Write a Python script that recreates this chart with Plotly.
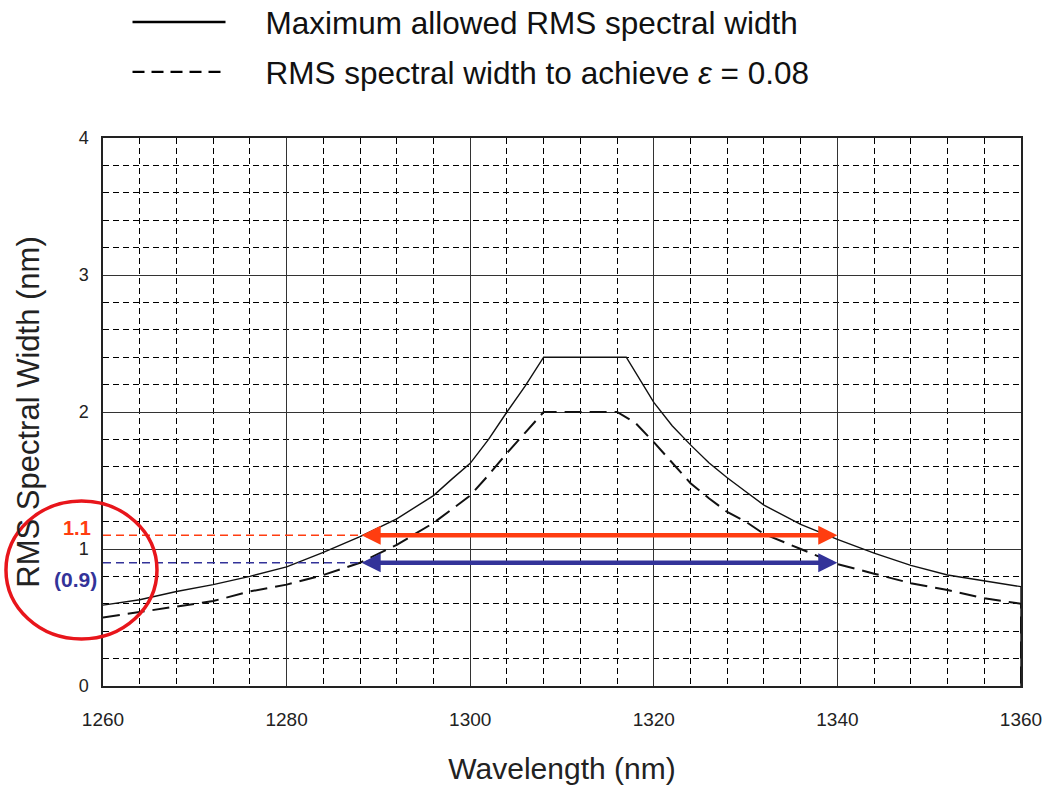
import plotly.graph_objects as go

# ---------------- data ----------------
wl_max = [1260, 1264, 1268, 1272, 1276, 1280, 1284, 1288, 1292, 1296, 1298, 1300, 1302, 1304,
          1306, 1308, 1317, 1320, 1322, 1324, 1326, 1328, 1330, 1332, 1336, 1340, 1344, 1348,
          1352, 1356, 1360, 1360]
rms_max = [0.59, 0.63, 0.69, 0.74, 0.80, 0.87, 0.975, 1.09, 1.22, 1.39, 1.51, 1.625, 1.80,
           2.00, 2.19, 2.40, 2.40, 2.07, 1.90, 1.76, 1.63, 1.52, 1.42, 1.32, 1.18, 1.07, 0.97,
           0.88, 0.81, 0.77, 0.725, 0.0]

wl_eps = [1260, 1264, 1268, 1272, 1276, 1280, 1284, 1288, 1292, 1296, 1298, 1300, 1302, 1304,
          1306, 1308, 1316, 1318, 1320, 1322, 1324, 1326, 1328, 1330, 1332, 1336, 1340, 1344,
          1348, 1352, 1356, 1360, 1360]
rms_eps = [0.50, 0.54, 0.58, 0.62, 0.69, 0.74, 0.81, 0.90, 1.03, 1.19, 1.29, 1.39, 1.54, 1.70,
           1.85, 2.00, 2.00, 1.92, 1.78, 1.63, 1.48, 1.37, 1.27, 1.20, 1.11, 1.00, 0.89, 0.82,
           0.75, 0.70, 0.64, 0.60, 0.0]

level_hi = 1.1          # orange
level_lo = 0.9          # blue
range_start = 1288
range_end = 1340

x_ticks = [1260, 1280, 1300, 1320, 1340, 1360]
y_ticks = [0, 1, 2, 3, 4]

legend_names = ["Maximum allowed RMS spectral width",
                "RMS spectral width to achieve <i>ε</i> = 0.08"]

ORANGE = "#FF3D10"
BLUE = "#333399"
RED = "#E8151B"
FONT = "Arial, Liberation Sans, sans-serif"
PAD = "\u00a0" * 4

fig = go.Figure()

# main curves
fig.add_trace(go.Scatter(x=wl_max, y=rms_max, mode="lines",
                         line=dict(color="#111", width=1.4), showlegend=False,
                         hoverinfo="skip"))
fig.add_trace(go.Scatter(x=wl_eps, y=rms_eps, mode="lines",
                         line=dict(color="#111", width=2, dash="17px,8px"), showlegend=False,
                         hoverinfo="skip"))

# legend entries
fig.add_trace(go.Scatter(x=[None], y=[None], mode="lines", name=PAD + legend_names[0],
                         legendgroup="a", line=dict(color="#000", width=2.6)))
fig.add_trace(go.Scatter(x=[None], y=[None], mode="lines", name=PAD + legend_names[1],
                         legendgroup="b", line=dict(color="#000", width=2.2, dash="12px,7px")))

# dashed reference levels from the axis to the start of range
fig.add_trace(go.Scatter(x=[x_ticks[0], range_start], y=[level_hi, level_hi], mode="lines",
                         line=dict(color=ORANGE, width=1.6, dash="8px,5px"),
                         showlegend=False, hoverinfo="skip"))
fig.add_trace(go.Scatter(x=[x_ticks[0], range_start], y=[level_lo, level_lo], mode="lines",
                         line=dict(color=BLUE, width=1.6, dash="8px,5px"),
                         showlegend=False, hoverinfo="skip"))

# double-headed arrows
for lvl, col in [(level_hi, ORANGE), (level_lo, BLUE)]:
    fig.add_annotation(x=range_end, y=lvl, ax=range_start, ay=lvl, xref="x", yref="y",
                       axref="x", ayref="y", text="", showarrow=True, arrowhead=2,
                       arrowside="end+start", arrowwidth=4.5, arrowsize=0.85, arrowcolor=col,
                       standoff=0, startstandoff=0)

# side labels
fig.add_annotation(x=-0.0278, y=1.155, xref="paper", yref="y", text="<b>1.1</b>",
                   xanchor="center", yanchor="middle",
                   showarrow=False, font=dict(family=FONT, size=20, color=ORANGE))
fig.add_annotation(x=-0.0305, y=0.78, xref="paper", yref="y", text="<b>(0.9)</b>",
                   xanchor="center", yanchor="middle",
                   showarrow=False, font=dict(family=FONT, size=21, color=BLUE))

# red circle highlight
fig.add_shape(type="circle", xref="paper", yref="paper", x0=-0.1057, x1=0.0588,
              y0=0.0858, y1=0.3376, line=dict(color=RED, width=3.5))

fig.update_xaxes(range=[1260, 1360], tickvals=x_ticks, showgrid=True,
                 gridcolor="#333", gridwidth=1.2,
                 minor=dict(dtick=4, tick0=1260, showgrid=True, gridcolor="#000",
                            gridwidth=1, griddash="6px,4px"),
                 showline=True, linecolor="#222", linewidth=1.5, mirror=True,
                 ticks="", ticklabelstandoff=15, zeroline=False, tickangle=0,
                 tickfont=dict(family=FONT, size=19, color="#222"),
                 title=dict(text="Wavelength (nm)", standoff=29,
                            font=dict(family=FONT, size=30, color="#222")))
fig.update_yaxes(range=[0, 4], tickvals=y_ticks, showgrid=True,
                 gridcolor="#333", gridwidth=1.2,
                 minor=dict(dtick=0.2, tick0=0, showgrid=True, gridcolor="#000",
                            gridwidth=1, griddash="6px,4px"),
                 showline=True, linecolor="#222", linewidth=1.5, mirror=True,
                 ticks="", ticklabelstandoff=9, zeroline=False,
                 tickfont=dict(family=FONT, size=18, color="#222"),
                 title=dict(text="RMS Spectral Width (nm)", standoff=30,
                            font=dict(family=FONT, size=31, color="#222")))

fig.update_layout(width=1046, height=786,
                  margin=dict(l=103, r=25, t=138, b=100, autoexpand=False),
                  paper_bgcolor="white", plot_bgcolor="white",
                  legend=dict(x=0.0267, y=1.2609, xanchor="left", yanchor="top",
                              itemwidth=93, tracegroupgap=6, bgcolor="rgba(0,0,0,0)",
                              font=dict(family=FONT, size=31.5, color="#111")),
                  showlegend=True)

fig.write_html("out.html", config={"displayModeBar": False},
               post_script="document.body.style.margin='0px';")
